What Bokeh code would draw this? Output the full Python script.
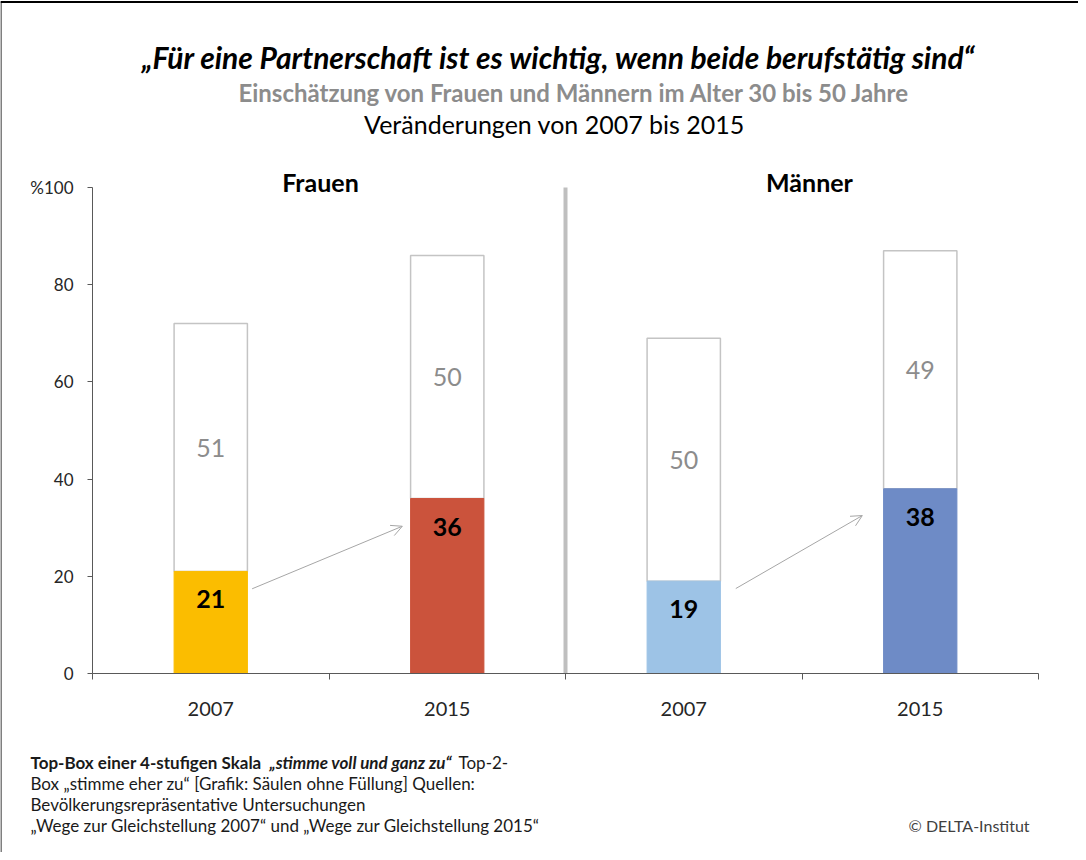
from bokeh.plotting import figure
from bokeh.models import (FixedTicker, Label, Arrow, OpenHead, ColumnDataSource, Range1d)
from bokeh.core.properties import value
from bokeh.embed import file_html
from bokeh.resources import INLINE

# ---- data ----
groups = ["Frauen", "Männer"]
years = ["2007", "2015", "2007", "2015"]
top_box = [21, 36, 19, 38]          # "stimme voll und ganz zu"
top2_box = [51, 50, 50, 49]         # "stimme eher zu"
y_ticks = [0, 20, 40, 60, 80, 100]
y_tick_labels = ["0", "20", "40", "60", "80", "%100"]

title = "\u201eFür eine Partnerschaft ist es wichtig, wenn beide berufstätig sind\u201c"
subtitle = "Einschätzung von Frauen und Männern im Alter 30 bis 50 Jahre"
subtitle2 = "Veränderungen von 2007 bis 2015"
foot1 = ["Top-Box einer 4-stufigen Skala ", "\u201estimme voll und ganz zu\u201c", "Top-2-"]
foot_lines = ["Box \u201estimme eher zu\u201c [Grafik: Säulen ohne Füllung] Quellen:",
              "Bevölkerungsrepräsentative Untersuchungen",
              "\u201eWege zur Gleichstellung 2007\u201c und \u201eWege zur Gleichstellung 2015\u201c"]
credit = "©  DELTA-Institut"

# ---- styles ----
FONT = "Lato"
bar_colors = ["#FBBD00", "#CB533C", "#9DC3E6", "#6E8BC6"]
bar_w = 0.31

n = len(years)
xs = [i + 0.5 for i in range(n)]
totals = [a + b for a, b in zip(top_box, top2_box)]

# page-pixel layout of the plotting area (axis from x=100..1046, y=681 (0) .. 195 (100))
AX_L, AX_R, AX_B, AX_T = 100, 1046, 681, 195
PX_X = (AX_R - AX_L) / n
PX_Y = (AX_B - AX_T) / 100.0

def dx(px):
    return (px - AX_L) / PX_X

def dy(py):
    return (AX_B - py) / PX_Y

W, H = 1078, 852
p = figure(width=W, height=H, output_backend="svg", toolbar_location=None,
           x_range=Range1d(dx(8), dx(8 + W)), y_range=Range1d(dy(8 + H), dy(8)),
           min_border=0)
p.outline_line_color = None
p.grid.visible = False
p.background_fill_color = "white"
p.border_fill_color = "white"

# frame of the picture (top and left edges)
p.segment(x0=[dx(8)], y0=[dy(9.5)], x1=[dx(8 + W)], y1=[dy(9.5)], line_color="black", line_width=2)
p.segment(x0=[dx(8.5)], y0=[dy(9)], x1=[dx(8.5)], y1=[dy(8 + H)], line_color="black", line_width=1)

# divider
p.segment(x0=[n / 2], y0=[0], x1=[n / 2], y1=[100], line_color="#BFBFBF", line_width=4)

src = ColumnDataSource(dict(x=xs, top=top_box, total=totals, color=bar_colors,
                            lab_top=[str(v) for v in top_box],
                            lab2=[str(v) for v in top2_box],
                            mid2=[a + b / 2 for a, b in zip(top_box, top2_box)]))

p.vbar(x="x", width=bar_w, bottom="top", top="total", source=src,
       fill_color="white", line_color="#C4C4C4", line_width=1.5)
p.vbar(x="x", width=bar_w, bottom=0, top="top", source=src,
       fill_color="color", line_color="color", line_width=1)

p.text(x="x", y="top", text="lab_top", source=src, text_align="center", text_baseline="middle",
       y_offset=28, text_font=value(FONT), text_font_style="bold", text_font_size="25px",
       text_color="black")
p.text(x="x", y="mid2", text="lab2", source=src, text_align="center", text_baseline="middle",
       text_font=value(FONT), text_font_size="25px", text_color="#8C8C8C")

# arrows from 2007 to 2015 in each group
start_gap = [0.02, 0.065]
end_gap = [0.035, 0.09]
start_frac = [0.83, 0.92]
end_drop = [5.7, 5.5]
for g in range(len(groups)):
    i0, i1 = 2 * g, 2 * g + 1
    p.add_layout(Arrow(end=OpenHead(size=11, line_color="#A6A6A6", line_width=1),
                       x_start=xs[i0] + bar_w / 2 + start_gap[g], y_start=top_box[i0] * start_frac[g],
                       x_end=xs[i1] - bar_w / 2 - end_gap[g], y_end=top_box[i1] - end_drop[g],
                       line_color="#A6A6A6", line_width=1))

# axes, fixed inside the (full-canvas) frame
yax = p.yaxis[0]
yax.fixed_location = 0
yax.bounds = (0, 100)
yax.ticker = FixedTicker(ticks=y_ticks)
yax.major_label_overrides = {t: l for t, l in zip(y_ticks, y_tick_labels)}
yax.minor_tick_line_color = None
yax.major_tick_in = 0
yax.major_tick_out = 5
yax.major_label_standoff = 14
yax.axis_line_color = "#595959"
yax.major_tick_line_color = "#595959"
yax.major_label_text_font = FONT
yax.major_label_text_font_size = "17px"
yax.major_label_text_color = "#262626"

xax = p.xaxis[0]
xax.fixed_location = 0
xax.bounds = (0, n)
xax.ticker = FixedTicker(ticks=xs, minor_ticks=list(range(n + 1)))
xax.major_label_overrides = {x: y for x, y in zip(xs, years)}
xax.major_tick_in = 0
xax.major_tick_out = 0
xax.minor_tick_in = 0
xax.minor_tick_out = 6
xax.minor_tick_line_color = "#595959"
xax.axis_line_color = "#595959"
xax.major_label_standoff = 22
xax.major_label_text_font = FONT
xax.major_label_text_font_size = "20px"
xax.major_label_text_color = "#262626"

def add_label(text, px, py, size, style="normal", color="black", align="center"):
    p.add_layout(Label(x=dx(px), y=dy(py), text=text, text_align=align, text_baseline="middle",
                       text_font=FONT, text_font_size=size, text_font_style=style,
                       text_color=color))

add_label(title, 566, 64, "30px", "bold italic")
add_label(subtitle, 582, 100, "24px", "bold", "#8C8C8C")
add_label(subtitle2, 562, 131, "25px")
for g, name in enumerate(groups):
    add_label(name, [328, 817][g], 189, "25px", "bold")

# footnote
add_label(foot1[0], 38, 770, "17px", "bold", "#1A1A1A", "left")
add_label(foot1[1], 277, 770, "17px", "bold italic", "#1A1A1A", "left")
add_label(foot1[2], 466, 770, "17px", "normal", "#1A1A1A", "left")
for k, line in enumerate(foot_lines):
    add_label(line, 38, 791 + 21 * k, "17px", "normal", "#1A1A1A", "left")
add_label(credit, 916, 833, "16px", "normal", "#404040", "left")

open("out.html", "w").write(file_html(p, INLINE))
